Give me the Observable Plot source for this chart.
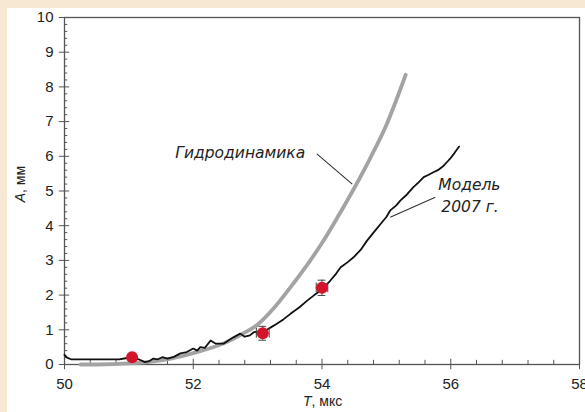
<!DOCTYPE html>
<html>
<head>
<meta charset="utf-8">
<script src="https://cdn.jsdelivr.net/npm/d3@7"></script>
<script src="https://cdn.jsdelivr.net/npm/@observablehq/plot@0.6"></script>
<style>
  html, body { margin: 0; padding: 0; background: #f7e8d3; width: 585px; height: 412px; overflow: hidden; }
  #panel { position: absolute; left: 7px; top: 8px; width: 578px; height: 404px; background: #ffffff; }
  #chart { position: absolute; left: 0; top: 0; }
</style>
</head>
<body>
<div id="panel"></div>
<div id="chart"></div>
<script>
// ---- data ----
const xTicks = [50, 52, 54, 56, 58];
const yTicks = [0, 1, 2, 3, 4, 5, 6, 7, 8, 9, 10];

// Hydrodynamics (gray curve)
const hydroT = [50.25, 50.5, 51.0, 51.5, 52.0, 52.5, 52.75, 53.0, 53.25, 53.5, 53.75, 54.0, 54.25, 54.5, 54.75, 55.0, 55.15, 55.3];
const hydroA = [0.0, 0.0, 0.03, 0.12, 0.33, 0.63, 0.87, 1.15, 1.62, 2.2, 2.82, 3.5, 4.27, 5.08, 5.95, 6.9, 7.6, 8.35];

// Model 2007 (black curve)
const modelT = [50.0, 50.04, 50.1, 50.85, 50.95, 51.05, 51.15, 51.25, 51.32, 51.38, 51.45, 51.52, 51.6, 51.7, 51.8, 51.9, 52.0, 52.06, 52.11, 52.18, 52.27, 52.35, 52.47, 52.55, 52.63, 52.73, 52.8, 52.88, 52.94, 53.0, 53.1, 53.25, 53.4, 53.51, 53.65, 53.77, 53.88, 53.98, 54.13, 54.22, 54.29, 54.4, 54.49, 54.6, 54.7, 54.8, 54.91, 55.0, 55.06, 55.15, 55.22, 55.32, 55.42, 55.5, 55.58, 55.65, 55.73, 55.8, 55.89, 55.95, 55.99, 56.06, 56.13];
const modelA = [0.28, 0.2, 0.15, 0.15, 0.18, 0.2, 0.15, 0.07, 0.1, 0.17, 0.15, 0.21, 0.17, 0.22, 0.32, 0.36, 0.46, 0.4, 0.5, 0.48, 0.69, 0.6, 0.6, 0.7, 0.79, 0.89, 0.8, 0.84, 0.93, 0.95, 0.95, 1.12, 1.3, 1.46, 1.65, 1.84, 2.0, 2.13, 2.42, 2.62, 2.8, 2.95, 3.09, 3.3, 3.57, 3.8, 4.05, 4.25, 4.44, 4.58, 4.73, 4.9, 5.11, 5.25, 5.4, 5.46, 5.54, 5.6, 5.73, 5.85, 5.93, 6.1, 6.28];

// Experimental points with errors
const expT = [51.05, 53.08, 54.0];
const expA = [0.21, 0.9, 2.21];
const expErrT = [0.04, 0.1, 0.09];
const expErrA = [0.08, 0.2, 0.22];

// Annotations
const labelText = ["Гидродинамика", "Модель", "2007 г."];
const labelT = [52.73, 56.29, 56.3];
const labelA = [6.1, 5.17, 4.53];
const leaderT1 = [53.92, 55.76];
const leaderA1 = [6.07, 4.82];
const leaderT2 = [54.47, 55.06];
const leaderA2 = [5.2, 4.24];

// ---- build tables ----
const hydro = hydroT.map((t, i) => ({t, a: hydroA[i]}));
const model = modelT.map((t, i) => ({t, a: modelA[i]}));
const exp = expT.map((t, i) => ({t, a: expA[i], et: expErrT[i], ea: expErrA[i]}));
const labels = labelText.map((s, i) => ({s, t: labelT[i], a: labelA[i]}));
const leaders = leaderT1.map((t, i) => ({t1: t, a1: leaderA1[i], t2: leaderT2[i], a2: leaderA2[i]}));

const xMinor = d3.range(50, 58.001, 0.4).map(v => +v.toFixed(1)).filter(v => !xTicks.includes(v));
const yMinor = d3.range(0, 10.001, 0.2).map(v => +v.toFixed(1)).filter(v => !yTicks.includes(v));

const axisColor = "#555";
const labelFont = "Liberation Sans, Arial, sans-serif";
const italicFont = "DejaVu Sans, Verdana, sans-serif";

const chart = Plot.plot({
  width: 585,
  height: 412,
  marginLeft: 64,
  marginRight: 6,
  marginTop: 17,
  marginBottom: 48,
  style: { background: "transparent", fontFamily: labelFont },
  x: { domain: [50, 58] },
  y: { domain: [0, 10] },
  marks: [
    Plot.frame({ stroke: axisColor, strokeWidth: 1.3 }),
    // minor & major ticks
    Plot.ruleX(xMinor, { x: d => d, y1: 0, y2: 0.12, stroke: axisColor, strokeWidth: 1 }),
    Plot.ruleX(xTicks, { x: d => d, y1: -0.15, y2: 0.15, stroke: axisColor, strokeWidth: 1 }),
    Plot.ruleY(yMinor, { y: d => d, x1: 50, x2: 50.05, stroke: axisColor, strokeWidth: 1 }),
    Plot.ruleY(yTicks, { y: d => d, x1: 49.92, x2: 50.08, stroke: axisColor, strokeWidth: 1 }),
    Plot.axisX({ ticks: xTicks, tickSize: 0, tickPadding: 14, fontSize: 15, label: null, fill: "#222" }),
    Plot.axisY({ ticks: yTicks, tickSize: 0, tickPadding: 11, fontSize: 15, label: null, fill: "#222" }),
    // axis titles
    Plot.text(["T"], { frameAnchor: "bottom", text: d => d, dx: -10.5, dy: 41, textAnchor: "end", fontSize: 14, fontStyle: "italic", fill: "#222" }),
    Plot.text([", мкс"], { frameAnchor: "bottom", text: d => d, dx: -10.5, dy: 41, textAnchor: "start", fontSize: 14, fill: "#222" }),
    Plot.text(["A"], { frameAnchor: "left", text: d => d, dx: -44, dy: 2, rotate: -90, textAnchor: "end", fontSize: 14, fontStyle: "italic", fill: "#222" }),
    Plot.text([", мм"], { frameAnchor: "left", text: d => d, dx: -44, dy: 2, rotate: -90, textAnchor: "start", fontSize: 14, fill: "#222" }),
    // curves
    Plot.line(hydro, { x: "t", y: "a", stroke: "#a3a3a3", strokeWidth: 3.8, curve: "monotone-x" }),
    Plot.line(model, { x: "t", y: "a", stroke: "#111", strokeWidth: 1.8 }),
    // error bars
    Plot.ruleX(exp, { x: "t", y1: d => d.a - d.ea, y2: d => d.a + d.ea, stroke: "#444", strokeWidth: 1 }),
    Plot.ruleY(exp, { y: d => d.a - d.ea, x1: d => d.t - 0.06, x2: d => d.t + 0.06, stroke: "#444", strokeWidth: 1 }),
    Plot.ruleY(exp, { y: d => d.a + d.ea, x1: d => d.t - 0.06, x2: d => d.t + 0.06, stroke: "#444", strokeWidth: 1 }),
    Plot.ruleY(exp, { y: "a", x1: d => d.t - d.et, x2: d => d.t + d.et, stroke: "#444", strokeWidth: 1 }),
    Plot.ruleX(exp, { x: d => d.t - d.et, y1: d => d.a - 0.14, y2: d => d.a + 0.14, stroke: "#444", strokeWidth: 1 }),
    Plot.ruleX(exp, { x: d => d.t + d.et, y1: d => d.a - 0.14, y2: d => d.a + 0.14, stroke: "#444", strokeWidth: 1 }),
    Plot.dot(exp, { x: "t", y: "a", r: 6, fill: "#d3152b", stroke: "none" }),
    // annotations
    Plot.link(leaders, { x1: "t1", y1: "a1", x2: "t2", y2: "a2", stroke: "#333", strokeWidth: 1.1 }),
    Plot.text(labels, { x: "t", y: "a", text: "s", fontSize: 15.5, fontStyle: "italic", fontFamily: italicFont, fill: "#222" })
  ]
});
document.getElementById("chart").appendChild(chart);
</script>
</body>
</html>
